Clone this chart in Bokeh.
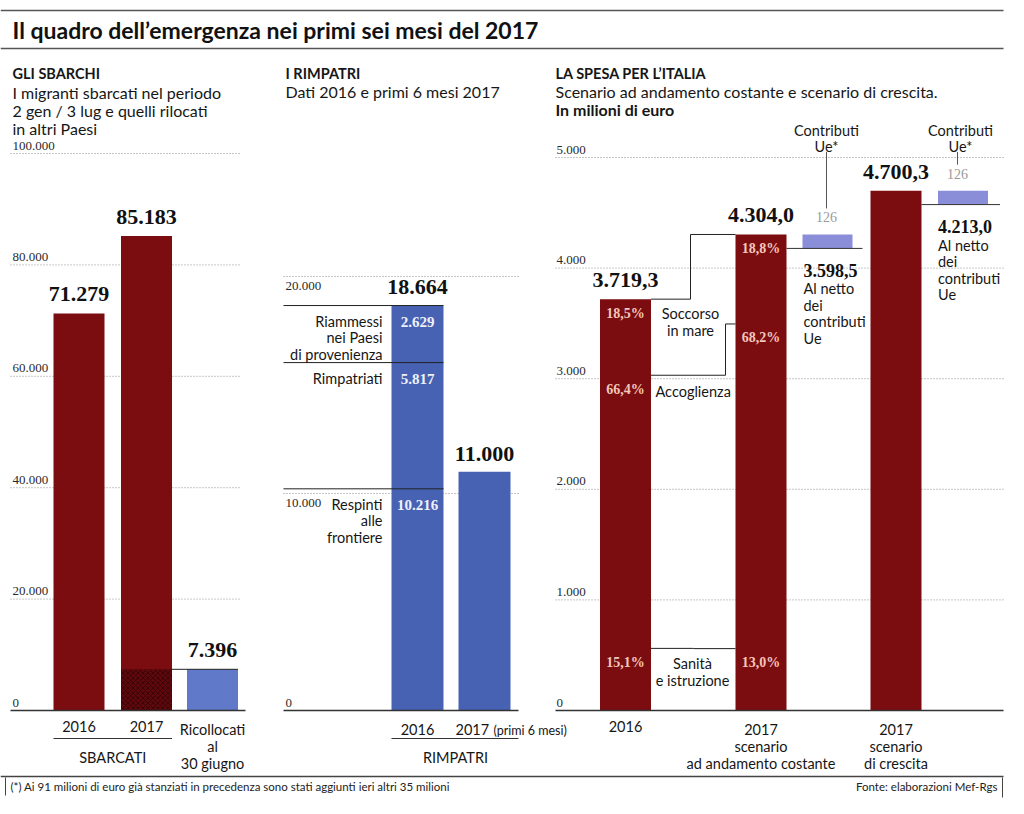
from bokeh.plotting import figure
from bokeh.models import Range1d
from bokeh.core.properties import value
from bokeh.embed import file_html
from bokeh.resources import INLINE

# ---------------- data ----------------
title = "Il quadro dell’emergenza nei primi sei mesi del 2017"

sb_cats = ["2016", "2017", "Ricollocati\nal\n30 giugno"]
sb_values = [71279, 85183, 7396]          # sbarcati 2016, 2017, ricollocati
sb_ticks = [0, 20000, 40000, 60000, 80000, 100000]

rim_cats = ["2016", "2017"]
rim_parts_names = ["Respinti\nalle\nfrontiere", "Rimpatriati", "Riammessi\nnei Paesi\ndi provenienza"]
rim_2016_parts = [10216, 5817, 2629]
rim_totals = [18664, 11000]
rim_ticks = [0, 10000, 20000]

sp_cats = ["2016", "2017\nscenario\nad andamento costante", "2017\nscenario\ndi crescita"]
sp_totals = [3719.3, 4304.0, 4700.3]
sp_parts_names = ["Soccorso\nin mare", "Accoglienza", "Sanità\ne istruzione"]
sp_pct_2016 = [18.5, 66.4, 15.1]
sp_pct_2017 = [18.8, 68.2, 13.0]
ue_contrib = [126, 126]
sp_net = [3598.5, 4213.0]
sp_ticks = [0, 1000, 2000, 3000, 4000, 5000]

footnote = "(*) Ai 91 milioni di euro già stanziati in precedenza sono stati aggiunti ieri altri 35 milioni"
source = "Fonte: elaborazioni Mef-Rgs"

# ---------------- style ----------------
RED = "#7b0d10"
RED_DARK = "#5e080b"
BLUE = "#4862b3"
BLUE_LIGHT = "#6079c8"
BLUE_UE = "#8a8ed9"
INK = "#161616"
GRID = "#8f8f8f"
SANS = "Lato"
SERIF = "Liberation Serif"

W, H = 1008, 798
X0, Y0 = 0, 0


def it(v, dec=0):
    s = f"{v:,.{dec}f}"
    return s.replace(",", "X").replace(".", ",").replace("X", ".")


def prange(base_px, k):
    # y in data units, 0 at pixel base_px, k pixels per unit
    return Range1d(start=(base_px - (Y0 + H)) / k, end=(base_px - Y0) / k)


p = figure(width=W, height=H, x_range=Range1d(X0, X0 + W), y_range=Range1d(Y0 + H, Y0),
           x_axis_type=None, y_axis_type=None, toolbar_location=None,
           output_backend="svg", min_border=0, outline_line_color=None)
p.background_fill_color = "white"
p.border_fill_color = "white"

KA = 557 / 100000
KB = 0.0217
KC = 553 / 5000
p.extra_y_ranges = {"sb": prange(710, KA), "rim": prange(710, KB), "sp": prange(710, KC)}


def txt(x, y, s, size=14.5, font=SANS, style="normal", color=INK, align="left",
        baseline="middle", yr=None, dy=0, lh=1.0):
    xs = x if isinstance(x, list) else [x]
    ys = y if isinstance(y, list) else [y]
    ss = s if isinstance(s, list) else [s]
    kw = dict(x=xs, y=ys, text=ss, text_font=value(font), text_font_size=f"{size}px",
              text_font_style=style, text_color=color, text_align=align,
              text_baseline=baseline, y_offset=dy, text_line_height=lh)
    if yr:
        kw["y_range_name"] = yr
    p.text(**kw)


def seg(x0, x1, y0, y1, yr=None, color="#222", width=1.0, dash="solid"):
    kw = dict(x0=x0 if isinstance(x0, list) else [x0], x1=x1 if isinstance(x1, list) else [x1],
              y0=y0 if isinstance(y0, list) else [y0], y1=y1 if isinstance(y1, list) else [y1],
              line_color=color, line_width=width, line_dash=dash)
    if yr:
        kw["y_range_name"] = yr
    p.segment(**kw)


# ---------------- title & frame rules ----------------
seg(0, 1003, 10, 10, color="#555", width=1.5)
seg(0, 1003, 48, 48, color="#555", width=1.5)
txt(12, 29, title, size=23, style="bold", color="#111")

# ---------------- panel A: sbarchi ----------------
A_x = [78.5, 146, 212]
A_w = 51
txt(12, 73, "GLI SBARCHI", size=14.5, style="bold")
txt(12, 82, "I migranti sbarcati nel periodo\n2 gen / 3 lug e quelli rilocati\nin altri Paesi",
    size=16, baseline="top", lh=0.95)
a_grid = [t for t in sb_ticks if t > 0]
seg([10] * len(a_grid), [240] * len(a_grid), a_grid, a_grid, yr="sb", color=GRID, dash="1 2")
txt([12] * len(sb_ticks), sb_ticks, [it(t) for t in sb_ticks], size=13, font=SERIF,
    color="#2a2a2a", yr="sb", dy=-8)
p.vbar(x=A_x[:2], top=sb_values[:2], bottom=0, width=A_w, fill_color=RED, line_color=None,
       y_range_name="sb")
p.vbar(x=[A_x[1]], top=[sb_values[2]], bottom=0, width=A_w, fill_color=RED_DARK, line_color=None,
       hatch_pattern="diagonal_cross", hatch_color="#250204", hatch_alpha=0.6, hatch_scale=5,
       hatch_weight=1, y_range_name="sb")
p.vbar(x=[A_x[2]], top=[sb_values[2]], bottom=0, width=A_w, fill_color=BLUE_LIGHT, line_color=None,
       y_range_name="sb")
seg(A_x[1] + A_w / 2, A_x[2] + A_w / 2, sb_values[2], sb_values[2], yr="sb", color="#222")
seg(10, 245, 0, 0, yr="sb", color="#333", width=1.5)
txt(A_x, sb_values, [it(v) for v in sb_values], size=22, font=SERIF, style="bold",
    align="center", yr="sb", dy=-19, color="#111")
txt(A_x, [720] * 3, sb_cats, size=14.5, align="center", baseline="top", lh=1.02)
seg(A_x[0] - A_w / 2, A_x[1] + A_w / 2, 738, 738, color="#333")
txt((A_x[0] + A_x[1]) / 2, 757, "SBARCATI", size=14.5, align="center")

# ---------------- panel B: rimpatri ----------------
B_x = [417, 484]
B_w = 52
txt(285, 73, "I RIMPATRI", size=14.5, style="bold")
txt(285, 91, "Dati 2016 e primi 6 mesi 2017", size=16)
b_grid = [t for t in rim_ticks if t > 0]
seg([283] * len(b_grid), [518] * len(b_grid), b_grid, b_grid, yr="rim", color=GRID, dash="1 2")
txt(285, 0, it(0), size=13, font=SERIF, color="#2a2a2a", yr="rim", dy=-8)
txt([285] * len(b_grid), b_grid, [it(t) for t in b_grid], size=13, font=SERIF, color="#2a2a2a",
    yr="rim", dy=9)
p.vbar(x=B_x, top=rim_totals, bottom=0, width=B_w, fill_color=BLUE, line_color=None,
       y_range_name="rim")
cum = []
acc = 0
for v in rim_2016_parts:
    acc += v
    cum.append(acc)
seg([283] * 3, [B_x[0] + B_w / 2] * 3, cum, cum, yr="rim", color="#222")
txt([B_x[0]] * 3, cum, [it(v) for v in rim_2016_parts], size=15, font=SERIF, style="bold",
    color="#eef0fa", align="center", yr="rim", dy=16)
txt([382] * 3, cum, rim_parts_names, size=14.5, align="right", baseline="top", yr="rim",
    dy=7, lh=0.97)
txt(B_x, rim_totals, [it(v) for v in rim_totals], size=22, font=SERIF, style="bold",
    align="center", yr="rim", dy=-18, color="#111")
seg(283, 518, 0, 0, yr="rim", color="#333", width=1.5)
txt(B_x[0], 729, rim_cats[0], size=14.5, align="center")
txt(455, 729, rim_cats[1], size=14.5)
txt(493, 730, "(primi 6 mesi)", size=12.5)
seg(B_x[0] - B_w / 2, 518, 738, 738, color="#333")
txt(455, 757, "RIMPATRI", size=14.5, align="center")

# ---------------- panel C: spesa ----------------
C_x = [625, 760.5, 895.5]
C_w = 51
U_x = [827, 962.5]
U_w = 50
lead_x = [826, 957]
txt(555, 73, "LA SPESA PER L’ITALIA", size=14.5, style="bold")
txt(555, 91, "Scenario ad andamento costante e scenario di crescita.", size=16)
txt(555, 109, "In milioni di euro", size=16, style="bold")
c_grid = [t for t in sp_ticks if t > 0]
seg([555] * len(c_grid), [1003] * len(c_grid), c_grid, c_grid, yr="sp", color=GRID, dash="1 2")
txt([556] * len(sp_ticks), sp_ticks, [it(t) for t in sp_ticks], size=13, font=SERIF,
    color="#2a2a2a", yr="sp", dy=-8)
p.vbar(x=C_x, top=sp_totals, bottom=0, width=C_w, fill_color=RED, line_color=None,
       y_range_name="sp")
ue_top = sp_totals[1:]
ue_bot = [t - u for t, u in zip(ue_top, ue_contrib)]
p.vbar(x=U_x, top=ue_top, bottom=ue_bot, width=U_w, fill_color=BLUE_UE, line_color=None,
       y_range_name="sp")
seg([C_x[1] + C_w / 2, C_x[2] + C_w / 2], [U_x[0] + 35, U_x[1] + 37], ue_bot, ue_bot,
    yr="sp", color="#333")
seg(lead_x, lead_x, [5050, 5050], [t + 26 / KC for t in ue_top], yr="sp", color="#555")
txt([826, 960], [121, 121], ["Contributi\nUe*", "Contributi\nUe*"], size=14.5, align="center",
    baseline="top", lh=0.95)
txt(lead_x, ue_top, [it(u) for u in ue_contrib], size=14, font=SERIF, color="#9a9a9a",
    align="center", yr="sp", dy=-17)
txt([U_x[0] - 24, U_x[1] - 25], ue_bot, [it(v, 1) for v in sp_net], size=18, font=SERIF,
    style="bold", color="#111", yr="sp", dy=22)
txt([U_x[0] - 24, U_x[1] - 25], ue_bot, ["Al netto\ndei\ncontributi\nUe"] * 2, size=14.5,
    baseline="top", yr="sp", dy=32, lh=0.97)
txt(C_x, sp_totals, [it(v, 1) for v in sp_totals], size=22, font=SERIF, style="bold",
    align="center", yr="sp", dy=-19, color="#111")

# segment boundaries (top of each component)
seg_tops = []
for tot, pct in zip(sp_totals[:2], [sp_pct_2016, sp_pct_2017]):
    seg_tops.append([tot, tot * (1 - pct[0] / 100), tot * pct[2] / 100])
for i, pct in enumerate([sp_pct_2016, sp_pct_2017]):
    txt([C_x[i]] * 3, seg_tops[i], [it(v, 1) + "%" for v in pct], size=14, font=SERIF,
        style="bold", color="#f3c6bb", align="center", yr="sp", dy=14)

r16 = C_x[0] + C_w / 2
l17 = C_x[1] - C_w / 2
p.multi_line(xs=[[r16, 690, 690, l17], [r16, 725, 725, l17], [r16, 693, 693, l17]],
             ys=[[seg_tops[0][0], seg_tops[0][0], seg_tops[1][0], seg_tops[1][0]],
                 [seg_tops[0][1], seg_tops[0][1], seg_tops[1][1], seg_tops[1][1]],
                 [seg_tops[0][2], seg_tops[0][2], seg_tops[1][2], seg_tops[1][2]]],
             line_color="#222", line_width=1, y_range_name="sp")
txt(690, seg_tops[0][0], sp_parts_names[0], size=14.5, align="center", baseline="top",
    yr="sp", dy=6, lh=0.97)
txt(655, seg_tops[0][1], sp_parts_names[1], size=14.5, yr="sp", dy=16)
txt(692, seg_tops[0][2], sp_parts_names[2], size=14.5, align="center", baseline="top",
    yr="sp", dy=7, lh=1.0)

seg(555, 1003, 0, 0, yr="sp", color="#333", width=1.5)
txt(C_x, [720] * 3, sp_cats, size=14.5, align="center", baseline="top", lh=1.0)

# ---------------- footer ----------------
seg(0, 1003, 776, 776, color="#444", width=1.5)
seg(5, 5, 777, 795, color="#444")
seg(1002, 1002, 777, 797, color="#444")
txt(10, 786, footnote, size=11.5, color="#222")
txt(997, 786, source, size=11.5, color="#222", align="right")

open("out.html", "w").write(file_html(p, INLINE))
